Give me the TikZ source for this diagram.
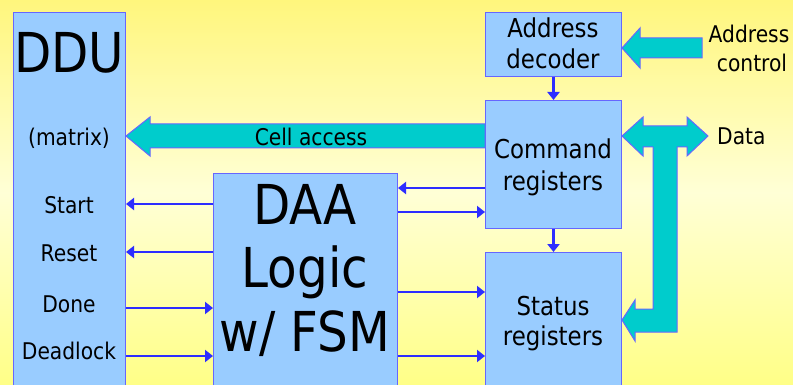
\documentclass[tikz,border=0pt]{standalone}
\usepackage{fontspec}
\setmainfont{DejaVu Sans}[FakeStretch=0.88]
\usetikzlibrary{arrows.meta}

\definecolor{boxblue}{RGB}{153,204,255}
\definecolor{edgeblue}{RGB}{102,102,255}
\definecolor{wireblue}{RGB}{45,45,255}
\definecolor{busteal}{RGB}{0,204,204}
\definecolor{bgtop}{RGB}{255,246,125}
\definecolor{bgmid}{RGB}{255,255,214}
\definecolor{bgbot}{RGB}{255,255,135}

\newcommand\fsz[1]{\fontsize{#1}{#1}\selectfont}

\tikzset{
  blk/.style={draw=edgeblue, fill=boxblue, line width=1pt, inner sep=0pt, anchor=north west},
  lbl/.style={inner sep=0pt, anchor=base, text=black},
  biglbl/.style={lbl, font=\fsz{55}},
  boxlbl/.style={lbl, font=\fsz{26}},
  siglbl/.style={lbl, font=\fsz{23}},
  wire/.style={draw=wireblue, line width=2.7pt, -{Triangle[length=8pt,width=12pt]}},
  bus/.style={fill=busteal, draw=edgeblue, line width=1pt, line join=miter},
}

\begin{document}
\begin{tikzpicture}[x=1pt, y=-1pt]
  % page and background
  \useasboundingbox (0,0) rectangle (793,385);
  \clip (0,0) rectangle (793,385);
  \shade[top color=bgtop, bottom color=bgbot, middle color=bgmid] (0,0) rectangle (793,385);

  % blocks
  \node[blk, minimum width=112pt, minimum height=400pt] (ddu)  at (13,12)  {};
  \node[blk, minimum width=184pt, minimum height=250pt] (daa)  at (213,173) {};
  \node[blk, minimum width=136pt, minimum height=64pt]  (adec) at (485,12)  {};
  \node[blk, minimum width=136pt, minimum height=128pt] (cmd)  at (485,100) {};
  \node[blk, minimum width=136pt, minimum height=200pt] (stat) at (485,252) {};

  % block texts
  \node[biglbl] (tddu) at (69,73) {DDU};
  \node[siglbl] (tmatrix) at (69,146) {(matrix)};
  \node[siglbl] (tstart) at (69,213) {Start};
  \node[siglbl] (treset) at (69,261) {Reset};
  \node[siglbl] (tdone) at (69,312) {Done};
  \node[siglbl] (tdead) at (69,359) {Deadlock};

  \node[biglbl] (tdaa1) at (305,224) {DAA};
  \node[biglbl] (tdaa2) at (305,287) {Logic};
  \node[biglbl] (tdaa3) at (305,351) {w/ FSM};

  \node[boxlbl] (tad1) at (553,38) {Address};
  \node[boxlbl] (tad2) at (553,69) {decoder};
  \node[boxlbl] (tcm1) at (553,159) {Command};
  \node[boxlbl] (tcm2) at (553,190) {registers};
  \node[boxlbl] (tst1) at (553,315) {Status};
  \node[boxlbl] (tst2) at (553,345) {registers};

  % wide buses
  \draw[bus] (ddu.east |- 0,136) -- (150,117) -- (150,124) -- (cmd.west |- 0,124)
             -- (cmd.west |- 0,148) -- (150,148) -- (150,156) -- cycle;
  \node[siglbl] (tcell) at (311,146) {Cell access};

  \draw[bus] (adec.east |- 0,48) -- (640,28) -- (640,38) -- (702,38)
             -- (702,58) -- (640,58) -- (640,68) -- cycle;
  \node[siglbl] (tac1) at (749,43) {Address};
  \node[siglbl] (tac2) at (752,72) {control};

  \draw[bus] (cmd.east |- 0,136) -- (643,117) -- (643,126) -- (687,126) -- (687,117)
             -- (708,136) -- (687,156) -- (687,147) -- (643,147) -- (643,156) -- cycle;
  \node[siglbl, anchor=base west] (tdata) at (717,145) {Data};

  % branch from the data bus down to the status registers
  \fill[busteal] (653,146) -- (653,309) -- (635,309) -- (635,300) -- (stat.east |- 0,320)
                 -- (635,341) -- (635,332) -- (677,332) -- (677,146) -- cycle;
  \draw[draw=edgeblue, line width=1pt, line join=miter]
        (653,147) -- (653,309) -- (635,309) -- (635,300) -- (stat.east |- 0,320)
        -- (635,341) -- (635,332) -- (677,332) -- (677,147);

  % control wires
  \draw[wire] (daa.west |- 0,204) -- (ddu.east |- 0,204);
  \draw[wire] (daa.west |- 0,252) -- (ddu.east |- 0,252);
  \draw[wire] (ddu.east |- 0,308) -- (daa.west |- 0,308);
  \draw[wire] (ddu.east |- 0,356) -- (daa.west |- 0,356);

  \draw[wire] (cmd.west |- 0,188) -- (daa.east |- 0,188);
  \draw[wire] (daa.east |- 0,212) -- (cmd.west |- 0,212);
  \draw[wire] (daa.east |- 0,292) -- (stat.west |- 0,292);
  \draw[wire] (daa.east |- 0,356) -- (stat.west |- 0,356);

  \draw[wire, line width=2.2pt] (adec.south) -- (cmd.north);
  \draw[wire, line width=2.2pt] (cmd.south) -- (stat.north);
\end{tikzpicture}
\end{document}
